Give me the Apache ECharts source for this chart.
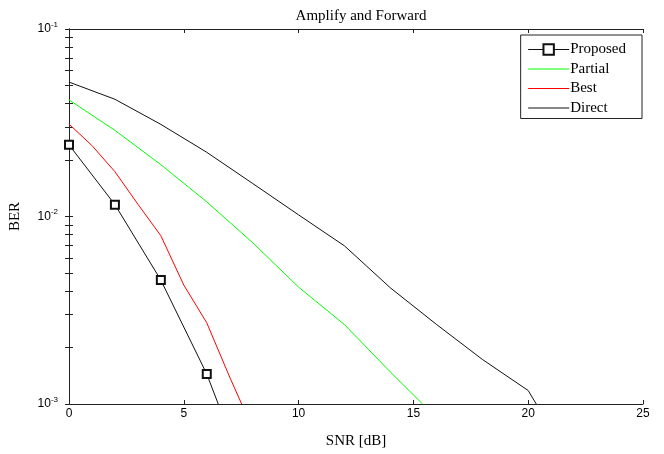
<!DOCTYPE html>
<html>
<head>
<meta charset="utf-8">
<script src="https://cdn.jsdelivr.net/npm/echarts@6/dist/echarts.min.js"></script>
<style>
  html, body { margin: 0; padding: 0; background: #fff; }
  #chart { width: 664px; height: 454px; }
</style>
</head>
<body>
<div id="chart"></div>
<script>
// 数据：SNR [dB] 与 BER
const snrProposed = [0, 2, 4, 6, 6.5];
const berProposed = [0.0241, 0.01157, 0.00458, 0.001445, 0.001];

const snrPartial = [0, 2, 4, 6, 8, 10, 12, 14, 15.4];
const berPartial = [0.0419, 0.0288, 0.0189, 0.01197, 0.00725, 0.0042, 0.00265, 0.00148, 0.001];

const snrBest = [0, 1, 2, 3, 4, 5, 6, 7, 7.52];
const berBest = [0.0311, 0.0239, 0.01734, 0.01163, 0.0079, 0.00431, 0.00271, 0.00139, 0.001];

const snrDirect = [0, 2, 4, 6, 8, 10, 12, 14, 16, 18, 20, 20.35];
const berDirect = [0.0521, 0.0422, 0.031, 0.022, 0.015, 0.0102, 0.00697, 0.00416, 0.00266, 0.00173, 0.00118, 0.001];

const xTicks = [0, 5, 10, 15, 20, 25];
const yMajor = [0.001, 0.01, 0.1];
const yMinor = [];
[0.001, 0.01].forEach((d) => {
  for (let k = 1; k <= 9; k++) yMinor.push(+(d * k).toPrecision(3));
});
yMinor.push(0.1);

const serif = "Liberation Serif";
const axisColor = "#222";
const colorBlack = "#111";
const colorGreen = "#00ff00";
const colorRed = "#ff0000";

const zip = (xs, ys) => xs.map((x, i) => [x, ys[i]]);

// 最后一个点是与下边框的交点，不画方块
const proposedData = zip(snrProposed, berProposed).map((p, i, arr) =>
  i === arr.length - 1 ? { value: p, symbol: "none" } : p
);

// 图例里只留线，隐藏圆点
const lineLegend = (name, color) => ({
  name,
  itemStyle: { opacity: 0 },
  lineStyle: { color, width: 1, opacity: 1 },
});

const chart = echarts.init(document.getElementById("chart"));

const yAxisBase = {
  type: "log",
  min: 0.001,
  max: 0.1,
  axisLine: { show: true, lineStyle: { color: axisColor, width: 1 } },
  axisTick: { show: true, inside: true, length: 4, customValues: yMinor, lineStyle: { color: axisColor } },
  splitLine: { show: false },
  minorTick: { show: false },
};

const xAxisBase = {
  type: "value",
  min: 0,
  max: 25,
  interval: 5,
  axisLine: { show: true, onZero: false, lineStyle: { color: axisColor, width: 1 } },
  axisTick: { show: true, inside: true, length: 4, lineStyle: { color: axisColor } },
  splitLine: { show: false },
};

chart.setOption({
  animation: false,
  backgroundColor: "#fff",
  title: {
    text: "Amplify and Forward",
    left: 356,
    textAlign: "center",
    top: 4,
    textStyle: { fontFamily: serif, fontSize: 15, fontWeight: "normal", color: "#000" },
  },
  grid: { left: 69, right: 21, top: 29, bottom: 37, containLabel: false },
  legend: {
    orient: "vertical",
    right: 22,
    top: 35,
    padding: [7, 16, 3, 7],
    itemWidth: 41,
    itemHeight: 13,
    itemGap: 4.5,
    borderColor: "#222",
    borderWidth: 1,
    backgroundColor: "#fff",
    textStyle: { fontFamily: serif, fontSize: 15, color: "#000", lineHeight: 13, padding: [0, 0, 0, -4] },
    data: [
      {
        name: "Proposed",
        itemStyle: { borderWidth: 1.2 },
        lineStyle: { color: colorBlack, width: 1 },
      },
      lineLegend("Partial", colorGreen),
      lineLegend("Best", colorRed),
      lineLegend("Direct", colorBlack),
    ],
  },
  xAxis: [
    {
      ...xAxisBase,
      position: "bottom",
      name: "SNR [dB]",
      nameLocation: "middle",
      nameGap: 30,
      nameTextStyle: { fontFamily: serif, fontSize: 15, color: "#000" },
      axisLabel: {
        margin: 4,
        fontFamily: "Liberation Sans",
        fontSize: 12,
        color: "#000",
        customValues: xTicks,
      },
    },
    { ...xAxisBase, position: "top", axisLabel: { show: false } },
  ],
  yAxis: [
    {
      ...yAxisBase,
      position: "left",
      name: "BER",
      nameLocation: "middle",
      nameGap: 46,
      nameRotate: 90,
      nameTextStyle: { fontFamily: serif, fontSize: 15, color: "#000" },
      axisLabel: {
        margin: 11,
        customValues: yMajor,
        formatter: (v) => "{b|10}{s|" + Math.round(Math.log10(v)) + "}",
        rich: {
          b: { fontFamily: "Liberation Sans", fontSize: 12, color: "#000" },
          s: { fontFamily: "Liberation Sans", fontSize: 8, color: "#000", padding: [0, 0, 9, 0] },
        },
      },
    },
    { ...yAxisBase, position: "right", axisLabel: { show: false } },
  ],
  series: [
    {
      name: "Proposed",
      type: "line",
      data: proposedData,
      symbol: "emptyRect",
      symbolSize: 8,
      color: colorBlack,
      lineStyle: { width: 1, color: colorBlack },
      itemStyle: { color: colorBlack, borderWidth: 1.2 },
      z: 5,
    },
    {
      name: "Partial",
      type: "line",
      data: zip(snrPartial, berPartial),
      symbol: "none",
      color: colorGreen,
      lineStyle: { width: 1, color: colorGreen },
    },
    {
      name: "Best",
      type: "line",
      data: zip(snrBest, berBest),
      symbol: "none",
      color: colorRed,
      lineStyle: { width: 1, color: colorRed },
    },
    {
      name: "Direct",
      type: "line",
      data: zip(snrDirect, berDirect),
      symbol: "none",
      color: colorBlack,
      lineStyle: { width: 1, color: colorBlack },
    },
  ],
});

window.onresize = function () {
  chart.resize();
};
</script>
</body>
</html>
